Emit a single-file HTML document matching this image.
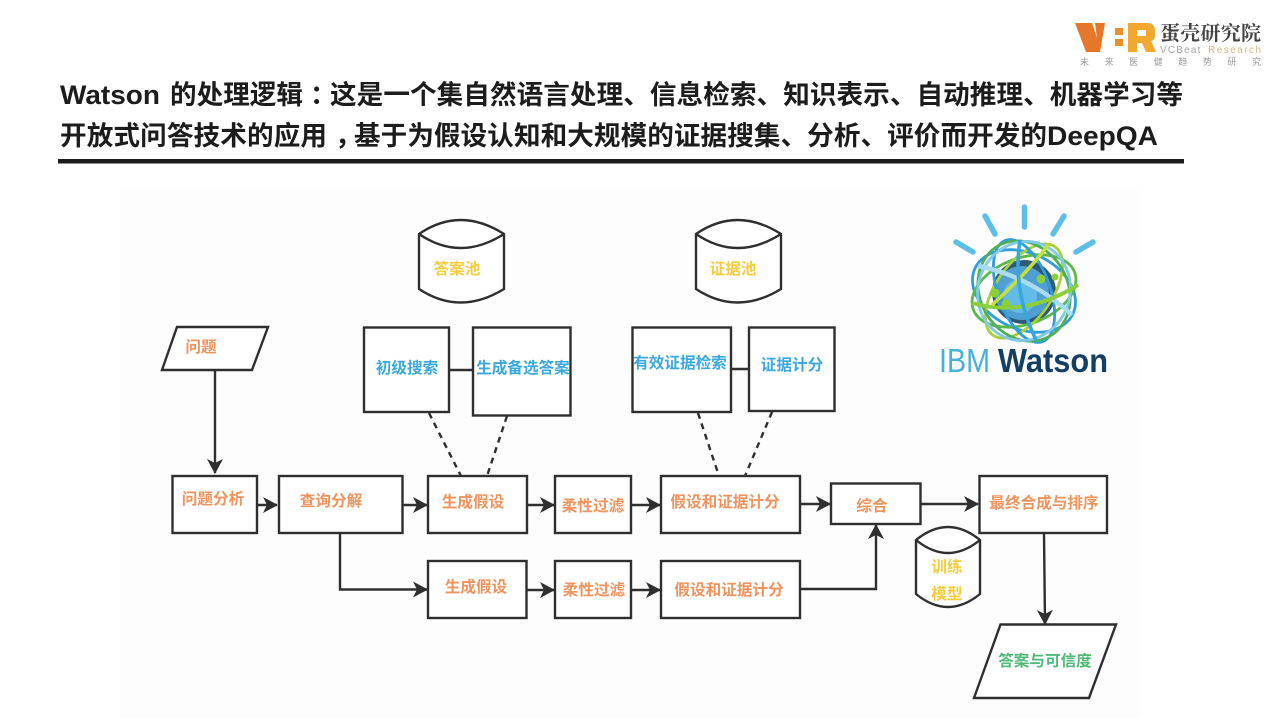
<!DOCTYPE html>
<html lang="zh">
<head>
<meta charset="utf-8">
<style>
html,body{margin:0;padding:0;background:#fff;width:1279px;height:720px;overflow:hidden}
svg{display:block;filter:blur(0.3px)}
text{font-family:"Liberation Sans","Noto Sans CJK SC",sans-serif}
.t{font-family:"Liberation Sans","Noto Sans CJK SC",sans-serif;font-weight:700;font-size:26.6px;fill:#1c1c1c}
.l{font-family:"Noto Sans CJK SC",sans-serif;font-weight:700;font-size:15.6px;text-anchor:middle;dominant-baseline:central}
.o{fill:#f0935c}.b{fill:#3ba9dd}.y{fill:#f6cc3e}.g{fill:#4fba78}
.s{fill:#fff;stroke:#2f2f2f;stroke-width:2.4}
.c{fill:none;stroke:#2f2f2f;stroke-width:2.4}
.d{fill:none;stroke:#2f2f2f;stroke-width:2.4;stroke-dasharray:6 5}
.r{stroke:#5cc0e6;stroke-width:5.5;stroke-linecap:round;fill:none}
</style>
</head>
<body>
<svg width="1279" height="720" viewBox="0 0 1279 720" xmlns="http://www.w3.org/2000/svg">
<defs>
<marker id="a" markerUnits="userSpaceOnUse" markerWidth="18" markerHeight="18" refX="14" refY="8" orient="auto">
<path d="M0 0 L15 8 L0 16 L4 8 Z" fill="#2f2f2f"/>
</marker>
</defs>
<rect width="1279" height="720" fill="#fff"/>
<rect x="120" y="190" width="1020" height="528" fill="#fdfdfd"/>

<!-- Brand logo -->
<path d="M1075 23 H1092 L1097 38 L1095 23 H1105 L1100 52 H1086 Z" fill="#e5762a"/>
<rect x="1115" y="28" width="8" height="7" fill="#eb8f2c"/>
<rect x="1115" y="39" width="8" height="7" fill="#eb8f2c"/>
<path d="M1128 23 H1147 Q1155 23 1155 31 V36 Q1155 40 1151 41 L1156 52 H1146 L1142 43 H1137 V52 H1128 Z M1137 30 V36 H1146 V30 Z" fill="#f2a72e" fill-rule="evenodd"/>
<text x="1160" y="40" font-size="20" font-weight="700" fill="#444" textLength="101" style="font-family:'Noto Serif CJK SC',serif">蛋壳研究院</text>
<text x="1160" y="53" font-size="10" fill="#a5a5a5" letter-spacing="1.2">VCBeat</text>
<text x="1208" y="53" font-size="10" fill="#d6b981" textLength="53">Research</text>
<text x="1080" y="65" font-size="9" fill="#999" textLength="181">未来医健趋势研究</text>

<!-- Title -->
<text class="t" x="60" y="104" textLength="100" lengthAdjust="spacingAndGlyphs">Watson</text>
<text class="t" x="170" y="104" textLength="133" lengthAdjust="spacing">的处理逻辑</text>
<text class="t" x="310" y="104">：</text>
<text class="t" x="330" y="104" textLength="853" lengthAdjust="spacing">这是一个集自然语言处理、信息检索、知识表示、自动推理、机器学习等</text>
<text class="t" x="60" y="145" textLength="267" lengthAdjust="spacing">开放式问答技术的应用</text>
<text class="t" x="335" y="145">，</text>
<text class="t" x="354" y="145" textLength="693" lengthAdjust="spacing">基于为假设认知和大规模的证据搜集、分析、评价而开发的</text>
<text class="t" x="1047" y="145" textLength="111" lengthAdjust="spacingAndGlyphs">DeepQA</text>
<rect x="58" y="159" width="1126" height="4.500" fill="#1c1c1c"/>

<!-- Connectors -->
<path class="c" d="M215 370 V473" marker-end="url(#a)"/>
<path class="c" d="M257 505 H277" marker-end="url(#a)"/>
<path class="c" d="M402 505 H427" marker-end="url(#a)"/>
<path class="c" d="M527 505 H554" marker-end="url(#a)"/>
<path class="c" d="M631 505 H660" marker-end="url(#a)"/>
<path class="c" d="M800 504 H830" marker-end="url(#a)"/>
<path class="c" d="M920 504 H978" marker-end="url(#a)"/>
<path class="c" d="M340 533 V589.500 H427" marker-end="url(#a)"/>
<path class="c" d="M526 590 H554" marker-end="url(#a)"/>
<path class="c" d="M631 590 H660" marker-end="url(#a)"/>
<path class="c" d="M800 589 H876 V525" marker-end="url(#a)"/>
<path class="c" d="M1044 533 L1045 624" marker-end="url(#a)"/>
<path class="c" d="M449 370 H473"/>
<path class="c" d="M731 369 H749"/>
<path class="d" d="M429 413 L461 476"/>
<path class="d" d="M507 416 L487 476"/>
<path class="d" d="M698 413 L719 476"/>
<path class="d" d="M772 412 L745 476"/>

<!-- Shapes -->
<path class="s" d="M177 327 H268 L252 370 H162 Z"/>
<rect class="s" x="172.500" y="476" width="84.500" height="57"/>
<rect class="s" x="279" y="476" width="123.500" height="57"/>
<rect class="s" x="428" y="476" width="99" height="57"/>
<rect class="s" x="555" y="476" width="76" height="57"/>
<rect class="s" x="661" y="476" width="139" height="57"/>
<rect class="s" x="831" y="483.500" width="89.500" height="40.500"/>
<rect class="s" x="979.500" y="476" width="127.500" height="57"/>
<rect class="s" x="428" y="561" width="98.500" height="57"/>
<rect class="s" x="555" y="561" width="76" height="57"/>
<rect class="s" x="661" y="561" width="139" height="57"/>
<rect class="s" x="364" y="327.500" width="85" height="84.500"/>
<rect class="s" x="473" y="327.500" width="97.500" height="88"/>
<rect class="s" x="632.500" y="327.500" width="98.500" height="84.500"/>
<rect class="s" x="749" y="327.500" width="85.500" height="83.500"/>
<path class="s" d="M1000.500 624.500 H1116 L1089 698 H974 Z"/>

<!-- Cylinders -->
<path class="s" d="M419 234 Q460 206 504 234 V289 Q460 316 419 289 Z"/>
<path class="c" d="M419 234 Q460 262 504 234"/>
<path class="s" d="M696 234 Q737 206 781 234 V289 Q737 316 696 289 Z"/>
<path class="c" d="M696 234 Q737 262 781 234"/>
<path class="s" d="M916 540 Q948 514 980 540 V594 Q948 620 916 594 Z"/>
<path class="c" d="M916 540 Q948 566 980 540"/>

<!-- Labels -->
<text class="l o" x="201" y="346">问题</text>
<text class="l o" x="213" y="498">问题分析</text>
<text class="l o" x="331" y="500">查询分解</text>
<text class="l o" x="473" y="501">生成假设</text>
<text class="l o" x="593" y="505">柔性过滤</text>
<text class="l o" x="725" y="501">假设和证据计分</text>
<text class="l o" x="872" y="505">综合</text>
<text class="l o" x="1044" y="502">最终合成与排序</text>
<text class="l o" x="476" y="586">生成假设</text>
<text class="l o" x="594" y="589">柔性过滤</text>
<text class="l o" x="729" y="589">假设和证据计分</text>
<text class="l y" x="947" y="566">训练</text>
<text class="l y" x="947" y="593">模型</text>
<text class="l g" x="1045" y="660">答案与可信度</text>
<text class="l y" x="457" y="268">答案池</text>
<text class="l y" x="733" y="268">证据池</text>
<text class="l b" x="407" y="367">初级搜索</text>
<text class="l b" x="523" y="367">生成备选答案</text>
<text class="l b" x="680" y="362">有效证据检索</text>
<text class="l b" x="792" y="364">证据计分</text>

<!-- Watson logo -->
<g>
<path class="r" d="M1024.500 207 V227"/>
<path class="r" d="M985 216 L995 234"/>
<path class="r" d="M956 242 L973 252"/>
<path class="r" d="M1064 216 L1053 234"/>
<path class="r" d="M1093 242 L1076 252"/>
<circle cx="1024" cy="292" r="32" fill="#2d5a78"/>
<circle cx="1022" cy="293" r="27" fill="#4f9fd2"/>
<circle cx="1020" cy="296" r="17" fill="#62bce8"/>
<g fill="none" stroke-width="2.800">
<ellipse cx="1024" cy="291" rx="54" ry="38" stroke="#2f9fdc" transform="rotate(25 1024 291)"/>
<ellipse cx="1024" cy="291" rx="54" ry="33" stroke="#5cb947" transform="rotate(-20 1024 291)"/>
<ellipse cx="1024" cy="291" rx="54" ry="28" stroke="#a6d13a" transform="rotate(-55 1024 291)"/>
<ellipse cx="1024" cy="291" rx="54" ry="26" stroke="#2f9fdc" transform="rotate(70 1024 291)"/>
<ellipse cx="1024" cy="291" rx="52" ry="44" stroke="#4fb05a" transform="rotate(60 1024 291)"/>
<ellipse cx="1024" cy="291" rx="50" ry="46" stroke="#7fcbe8" transform="rotate(-70 1024 291)"/>
<path d="M978 266 Q1030 276 1072 315" stroke="#a9dcf0" stroke-width="4.500"/>
<path d="M972 303 Q1025 318 1078 285" stroke="#8ccf3c" stroke-width="4"/>
<path d="M992 305 Q1030 270 1048 245" stroke="#c6e03a" stroke-width="3.500"/>
<path d="M1020 240 Q1012 290 1036 340" stroke="#35a6de" stroke-width="3.500"/>
</g>
<g fill="#8ccf3c"><circle cx="995" cy="293" r="4.500"/><circle cx="1006" cy="304" r="4.500"/><circle cx="1041" cy="279" r="4.500"/><circle cx="1055" cy="277" r="3.500"/></g>
<text x="939" y="372" font-size="33" fill="#45b2dc" textLength="51" lengthAdjust="spacingAndGlyphs">IBM</text>
<text x="998" y="372" font-size="33" font-weight="700" fill="#123f63" textLength="110" lengthAdjust="spacingAndGlyphs">Watson</text>
</g>
</svg>
</body>
</html>
